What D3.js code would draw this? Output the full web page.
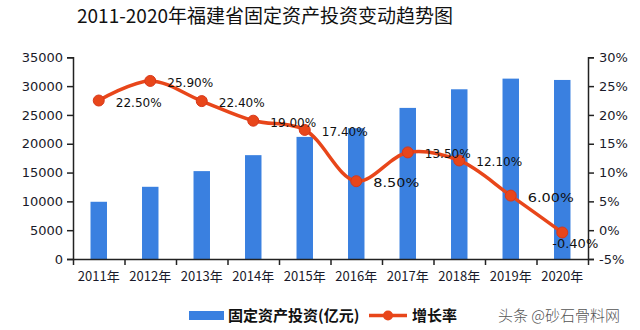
<!DOCTYPE html>
<html><head><meta charset="utf-8">
<script src="https://cdn.jsdelivr.net/npm/d3@7"></script>
<style>
html,body{margin:0;padding:0;background:#fff;}
svg{display:block;}
</style>
</head><body>
<svg id="c" width="640" height="330"></svg>
<script>
const title = "2011-2020年福建省固定资产投资变动趋势图";
const years = ["2011年","2012年","2013年","2014年","2015年","2016年","2017年","2018年","2019年","2020年"];
const investment = [9930, 12530, 15250, 18020, 21190, 22700, 26220, 29450, 31300, 31070];
const growth = [22.5, 25.9, 22.4, 19.0, 17.4, 8.5, 13.5, 12.1, 6.0, -0.4];
const leftTicks = [0,5000,10000,15000,20000,25000,30000,35000];
const rightTicks = [-5,0,5,10,15,20,25,30];
const seriesNames = ["固定资产投资(亿元)","增长率"];
const watermark = "头条 @砂石骨料网";

const svg = d3.select("#c");
const L = 73, R = 588, T = 57.3, B = 259;
const font = "'DejaVu Sans', Verdana, sans-serif";
const cjk = "'Noto Sans CJK SC', 'Noto Sans', sans-serif";
const barColor = "#3A80E0", lineColor = "#E8461A", axisColor = "#222";

const x = d3.scaleBand().domain(years).range([L, R]).paddingInner(0).paddingOuter(0);
const yL = d3.scaleLinear().domain([0, 35000]).range([B, T]);
const yR = d3.scaleLinear().domain([-5, 30]).range([B, T]);

// title
svg.append("text").attr("x", 265).attr("y", 23).attr("text-anchor","middle")
  .attr("font-family", cjk).attr("font-size", 19).attr("fill","#111").text(title);

// bars
const bw = x.bandwidth()*0.32;
svg.append("g").selectAll("rect").data(investment).join("rect")
  .attr("x",(d,i)=>x(years[i])+x.bandwidth()/2-bw/2)
  .attr("y",d=>yL(d)).attr("width",bw).attr("height",d=>B-yL(d))
  .attr("fill",barColor);

// axes
const styleAxis = g => {
  g.select(".domain").attr("stroke",axisColor).attr("stroke-width",1.5);
  g.selectAll(".tick line").attr("stroke",axisColor).attr("stroke-width",1.5);
  g.selectAll(".tick text").attr("fill","#1a1a2a").attr("font-family",font).attr("font-size",13);
};
svg.append("g").attr("transform",`translate(${L},0)`)
  .call(d3.axisLeft(yL).tickValues(leftTicks).tickFormat(d3.format("d")).tickSizeOuter(0).tickSize(6).tickPadding(4))
  .call(styleAxis);
svg.append("g").attr("transform",`translate(${R},0)`)
  .call(d3.axisRight(yR).tickValues(rightTicks).tickFormat(d=>d+"%").tickSizeOuter(0).tickSize(6).tickPadding(5))
  .call(styleAxis);
// x axis with ticks at band boundaries
const xb = d3.scalePoint().domain(d3.range(years.length+1)).range([L, R]);
const xg = svg.append("g").attr("transform",`translate(0,${B})`)
  .call(d3.axisBottom(xb).tickFormat("").tickSize(6).tickSizeOuter(0));
xg.select(".domain").attr("stroke",axisColor).attr("stroke-width",1.5);
xg.selectAll(".tick line").attr("stroke",axisColor).attr("stroke-width",1.5);
svg.append("g").selectAll("text").data(years).join("text")
  .attr("x",d=>x(d)+x.bandwidth()/2).attr("y",281).attr("text-anchor","middle")
  .attr("font-family",cjk).attr("font-size",13).attr("fill","#1a1a2a").text(d=>d);

// line
const cx = i => x(years[i])+x.bandwidth()/2;
const line = d3.line().x((d,i)=>cx(i)).y(d=>yR(d)).curve(d3.curveCatmullRom.alpha(0.5));
svg.append("path").datum(growth).attr("d",line).attr("fill","none")
  .attr("stroke",lineColor).attr("stroke-width",3.5);
svg.append("g").selectAll("circle").data(growth).join("circle")
  .attr("cx",(d,i)=>cx(i)).attr("cy",d=>yR(d)).attr("r",5.5)
  .attr("fill",lineColor).attr("stroke","#D8381A").attr("stroke-width",1);

// labels
svg.append("g").selectAll("text").data(growth).join("text")
  .attr("x",(d,i)=> d<0 ? cx(i)-10 : cx(i)+17)
  .attr("y",d=> d<0 ? yR(d)+16 : yR(d)+6)
  .attr("font-family",font).attr("font-size",13).attr("fill","#111")
  .attr("textLength",46).attr("lengthAdjust","spacingAndGlyphs")
  .text(d=>d.toFixed(2)+"%");

// legend
const lg = svg.append("g");
lg.append("rect").attr("x",189).attr("y",311).attr("width",35).attr("height",9).attr("fill",barColor);
lg.append("text").attr("x",228).attr("y",321).attr("font-family",cjk).attr("font-size",15).attr("font-weight","bold")
  .attr("fill","#111").text(seriesNames[0]);
lg.append("line").attr("x1",369).attr("x2",407).attr("y1",315.5).attr("y2",315.5).attr("stroke",lineColor).attr("stroke-width",3.5);
lg.append("circle").attr("cx",388).attr("cy",315.5).attr("r",5).attr("fill",lineColor);
lg.append("text").attr("x",412).attr("y",321).attr("font-family",cjk).attr("font-size",15).attr("font-weight","bold")
  .attr("fill","#111").text(seriesNames[1]);
svg.append("text").attr("x",498).attr("y",321).attr("font-family",cjk).attr("font-size",15).attr("font-weight",300)
  .attr("fill","#555").text(watermark);
</script>
</body></html>
